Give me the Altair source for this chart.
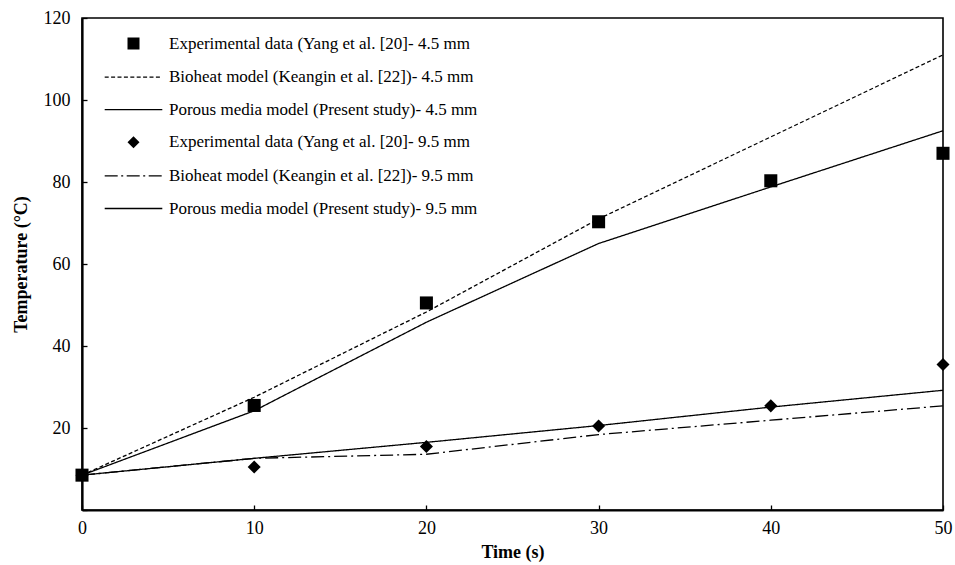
import altair as alt
import pandas as pd

# ---------------- data ----------------
time = [0, 10, 20, 30, 40, 50]
exp_45 = [8.5, 25.5, 50.5, 70.3, 80.3, 87.0]
bio_45 = [8.5, 27.5, 48.3, 71.0, 91.0, 111.0]
por_45 = [8.5, 24.2, 45.8, 65.0, 78.8, 92.5]
exp_95 = [8.5, 10.5, 15.5, 20.5, 25.4, 35.5]
bio_95 = [8.5, 12.6, 13.6, 18.4, 21.9, 25.4]
por_95 = [8.5, 12.6, 16.5, 20.6, 25.1, 29.2]

series_names = [
    "Experimental data (Yang et al. [20]- 4.5 mm",
    "Bioheat model (Keangin et al. [22])- 4.5 mm",
    "Porous media model (Present study)- 4.5 mm",
    "Experimental data (Yang et al. [20]- 9.5 mm",
    "Bioheat model (Keangin et al. [22])- 9.5 mm",
    "Porous media model (Present study)- 9.5 mm",
]
x_ticks = [0, 10, 20, 30, 40, 50]
y_ticks = [0, 20, 40, 60, 80, 100, 120]

# ---------------- tables ----------------
pts_rows = []
for name, vals in [(series_names[0], exp_45), (series_names[3], exp_95)]:
    for t, v in zip(time, vals):
        pts_rows.append({"series": name, "time": t, "temp": v})
pts = pd.DataFrame(pts_rows)

line_rows = []
for name, vals in [(series_names[1], bio_45), (series_names[2], por_45),
                   (series_names[4], bio_95), (series_names[5], por_95)]:
    for t, v in zip(time, vals):
        line_rows.append({"series": name, "time": t, "temp": v})
lines = pd.DataFrame(line_rows)

# ---------------- legend symbol paths (styling) ----------------
R = 6.0      # px per path unit for legend symbol size 144
HALF = 4.8   # half-length of legend line in units
TH = 0.65 / R  # half thickness of drawn line, in units


def bar(a, b):
    return f"M{a:.3f},{-TH:.3f}H{b:.3f}V{TH:.3f}H{a:.3f}Z"


def segs_path(pattern_px):
    pat = [p / R for p in pattern_px]
    a = -HALF
    out = []
    i = 0
    while a < HALF - 1e-6:
        L = pat[i % len(pat)]
        b = min(a + L, HALF)
        if i % 2 == 0:
            out.append(bar(a, b))
        a = b
        i += 1
    return "".join(out)


solid_path = bar(-HALF, HALF)
dashed_path = segs_path([4, 2.4])
dashdot_path = segs_path([13, 3.5, 2, 3.5])

shape_range = ["square", dashed_path, solid_path, "diamond", dashdot_path, solid_path]

line_names = [series_names[1], series_names[2], series_names[4], series_names[5]]
dash_range = [[4, 2.4], [1, 0], [13, 4, 2, 4], [1, 0]]

W, H = 861, 492
FONT = "Liberation Serif"

x_main = alt.X(
    "time:Q",
    scale=alt.Scale(domain=[0, 50], nice=False),
    axis=alt.Axis(values=x_ticks, title="Time (s)", ticks=False, tickSize=0,
                  labelPadding=9, titlePadding=6, domainWidth=2.2,
                  labelFlush=False,
                  domainColor="black", grid=False, labelFont=FONT,
                  labelFontSize=18, labelColor="black", titleFont=FONT,
                  titleFontSize=18, titleFontWeight="bold", titleColor="black"),
)
y_main = alt.Y(
    "temp:Q",
    scale=alt.Scale(domain=[0, 120], nice=False),
    axis=alt.Axis(values=y_ticks, title="Temperature (°C)", ticks=False,
                  tickSize=0, labelPadding=12, titlePadding=13,
                  labelFlush=False,
                  labelExpr="datum.value == 0 ? '' : datum.label",
                  domainWidth=2.2, domainColor="black", grid=False,
                  labelFont=FONT, labelFontSize=18, labelColor="black",
                  titleFont=FONT, titleFontSize=18, titleFontWeight="bold",
                  titleColor="black"),
)

x_tick = alt.X(
    "time:Q",
    scale=alt.Scale(domain=[0, 50], nice=False),
    axis=alt.Axis(orient="top", offset=-H, values=x_ticks, labels=False,
                  domain=False, ticks=True, tickSize=5, tickWidth=1.3,
                  tickColor="black", grid=False, title=None),
)
y_tick = alt.Y(
    "temp:Q",
    scale=alt.Scale(domain=[0, 120], nice=False),
    axis=alt.Axis(orient="right", offset=-W, values=y_ticks, labels=False,
                  domain=False, ticks=True, tickSize=5, tickWidth=1.3,
                  tickColor="black", grid=False, title=None),
)

line_layer = alt.Chart(lines).mark_line(color="black", strokeWidth=1.3).encode(
    x=x_main,
    y=y_main,
    detail="series:N",
    strokeDash=alt.StrokeDash("series:N",
                              scale=alt.Scale(domain=line_names, range=dash_range),
                              legend=None),
)

point_layer = alt.Chart(pts).mark_point(filled=True, opacity=1, color="black",
                                        size=170).encode(
    x=x_tick,
    y=y_tick,
    shape=alt.Shape(
        "series:N",
        scale=alt.Scale(domain=series_names, range=shape_range),
        legend=alt.Legend(
            orient="none", legendX=43, legendY=17, title=None, padding=0,
            labelFont=FONT, labelFontSize=17, labelColor="black",
            labelLimit=600, labelOffset=27, rowPadding=14.6,
            symbolSize=144, symbolFillColor="black", symbolOpacity=1,
        ),
    ),
)

chart = (
    alt.layer(line_layer, point_layer)
    .resolve_axis(x="independent", y="independent")
    .properties(
        width=W, height=H,
        autosize=alt.AutoSizeParams(type="none"),
        padding={"left": 82, "top": 18, "right": 12, "bottom": 55},
        background="white",
    )
    .configure_view(stroke="black", strokeWidth=1.6)
)

chart.save("out.html", embed_options={"renderer": "svg", "actions": False})
